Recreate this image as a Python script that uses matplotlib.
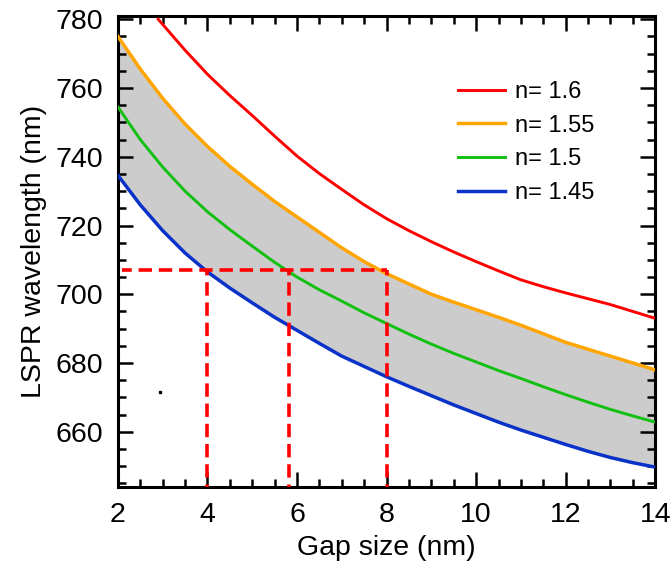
import matplotlib
matplotlib.use("Agg")
import matplotlib.pyplot as plt
from matplotlib.ticker import MultipleLocator

plt.rcParams['font.family'] = ['Liberation Sans', 'DejaVu Sans']

# Data
gap = [2, 2.5, 3, 3.5, 4, 4.5, 5, 5.5, 6, 6.5, 7, 7.5, 8, 8.5, 9, 9.5,
       10, 10.5, 11, 11.5, 12, 12.5, 13, 13.5, 14]
gap_red = [2.9, 3.5, 4, 4.5, 5, 5.5, 6, 6.5, 7, 7.5, 8, 8.5, 9, 9.5,
           10, 10.5, 11, 11.5, 12, 12.5, 13, 13.5, 14]
n160 = [780, 771, 764, 757.8, 752, 746, 740.2, 735.1, 730.5, 726, 722, 718.5,
        715.3, 712.3, 709.5, 706.8, 704.2, 702.2, 700.4, 698.7, 697, 695, 693]
n155 = [775, 765.5, 757, 749.5, 743, 737.2, 732, 727, 722.5, 718, 713.5, 709.5,
        706, 703, 700, 697.7, 695.5, 693.3, 691, 688.5, 686, 684, 682, 680, 678]
n150 = [754.5, 745, 737, 730, 724, 718.8, 714, 709.3, 705, 701.3, 698, 694.6,
        691.5, 688.4, 685.5, 682.8, 680.3, 677.8, 675.5, 673.1, 670.8, 668.6,
        666.5, 664.6, 662.8]
n145 = [734.6, 726, 718.5, 712, 706.5, 701.8, 697.5, 693.3, 689.5, 685.7, 682,
        679, 676, 673.2, 670.5, 667.8, 665.3, 662.8, 660.5, 658.4, 656.3, 654.3,
        652.5, 651, 649.7]
labels = ["n= 1.6", "n= 1.55", "n= 1.5", "n= 1.45"]
colors = ["#ff0000", "#ffa500", "#11c011", "#0a32c8"]

target_wl = 707
gap_marks = [3.98, 5.82, 8.0]
y_min, y_max = 644, 781

fig = plt.figure(figsize=(6.7, 5.66), dpi=100)
ax = fig.add_axes([0.176, 0.140, 0.802, 0.832])

ax.fill_between(gap, n145, n155, color="#cccccc", lw=0, zorder=1)
lw = 2.1
ax.plot(gap_red, n160, color=colors[0], lw=lw, label=labels[0], zorder=3)
ax.plot(gap, n155, color=colors[1], lw=lw + 0.4, label=labels[1], zorder=3)
ax.plot(gap, n150, color=colors[2], lw=lw, label=labels[2], zorder=3)
ax.plot(gap, n145, color=colors[3], lw=lw + 0.4, label=labels[3], zorder=3)

dlw = 2.6
ax.plot([2.1, max(gap_marks)], [target_wl, target_wl], color="#ff0000", lw=dlw,
        ls=(1.0, (3.7, 1.9)), zorder=4)
for g in gap_marks:
    ax.plot([g, g], [y_min, target_wl], color="#ff0000", lw=dlw,
            ls=(3.0, (3.7, 1.9)), zorder=4)

# small artifact dot
ax.plot([2.94], [671.5], marker="s", ms=2, color="black", ls="none")

ax.set_xlim(2, 14)
ax.set_ylim(y_min, y_max)
ax.xaxis.set_major_locator(MultipleLocator(2))
ax.xaxis.set_minor_locator(MultipleLocator(0.5))
ax.yaxis.set_major_locator(MultipleLocator(20))
ax.yaxis.set_minor_locator(MultipleLocator(5))
ax.tick_params(which="both", direction="in", top=True, right=True, width=1.8)
ax.tick_params(which="major", length=11, labelsize=20.5)
ax.tick_params(axis="x", which="major", pad=11)
ax.tick_params(axis="y", which="major", pad=11)
ax.tick_params(which="minor", length=6)
for s in ax.spines.values():
    s.set_linewidth(2.2)

ax.set_xlabel("Gap size (nm)", fontsize=20.5, labelpad=5)
ax.set_ylabel("LSPR wavelength (nm)", fontsize=20.5, labelpad=6)

ax.legend(loc="upper left", bbox_to_anchor=(0.633, 0.862), frameon=False,
          fontsize=17, handlelength=2.0, handletextpad=0.42, labelspacing=0.5,
          borderpad=0, borderaxespad=0)

fig.savefig("out.png", dpi=100)
